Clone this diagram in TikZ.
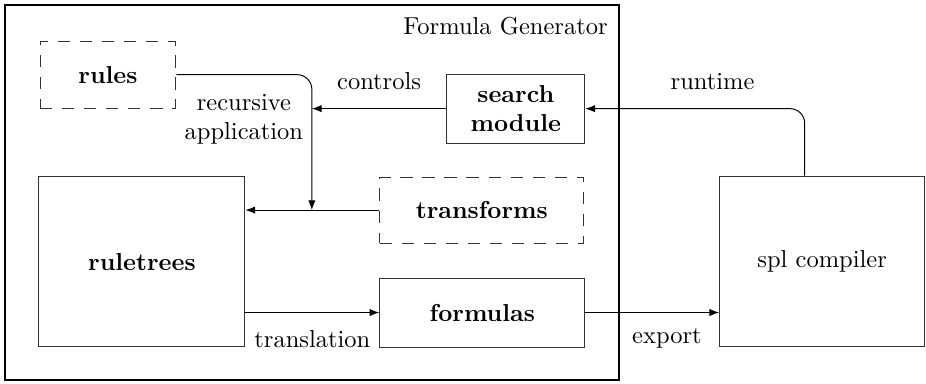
\documentclass[tikz,border=0pt]{standalone}
\usepackage{amsmath}
\usepackage{tikz}
\usetikzlibrary{arrows.meta}

\begin{document}
\begin{tikzpicture}[>={Latex[length=4pt,width=3pt]},
    block/.style={draw=black!80, minimum width=2.94cm, minimum height=0.99cm, font=\bfseries},
    dashblock/.style={block, dash pattern=on 5pt off 4pt},
    bigblock/.style={block, minimum height=2.45cm}]
\useasboundingbox (0,0) rectangle (13.285,5.495);
% generator frame
\node[draw,thick,minimum width=8.82cm,minimum height=5.37cm] (gen) at (4.477,2.732) {};
\node[anchor=north east,inner sep=5pt] (genname) at (gen.north east) {Formula Generator};
% blocks
\node[dashblock,minimum width=1.95cm,minimum height=0.96cm] (rules) at (1.549,4.424) {rules};
\node[block,minimum width=1.98cm,align=center] (search) at (7.40,3.936) {search\\module};
\node[dashblock,minimum width=2.925cm,minimum height=0.946cm] (trans) at (6.912,2.481) {transforms};
\node[bigblock,minimum width=2.954cm] (rtree) at (2.036,1.742) {ruletrees};
\node[block] (form) at (6.92,1.011) {formulas};
\node[bigblock,font=\normalfont] (spl) at (11.795,1.742) {spl compiler};
\coordinate (merge) at (4.474,2.481);
% connections
\draw[->] (trans.west) -- (trans.west -| rtree.east);
\draw[->,rounded corners=6pt] (rules.east) -| (merge);
\node[align=center] (recapp) at (3.499,3.78) {recursive\\application};
\draw[->] (search.west) -- node[above=4pt] {controls} (search.west -| merge);
\draw[->] (rtree.east |- form.west) -- node[below=4pt] {translation} (form.west);
\draw[->] (form.east) -- node[pos=0.61,below=3pt] {export} (form.east -| spl.west);
\draw[->,rounded corners=6pt] ([xshift=-0.25cm]spl.north) |- node[pos=0.71,above=4pt] {runtime} (search.east);
\end{tikzpicture}
\end{document}
